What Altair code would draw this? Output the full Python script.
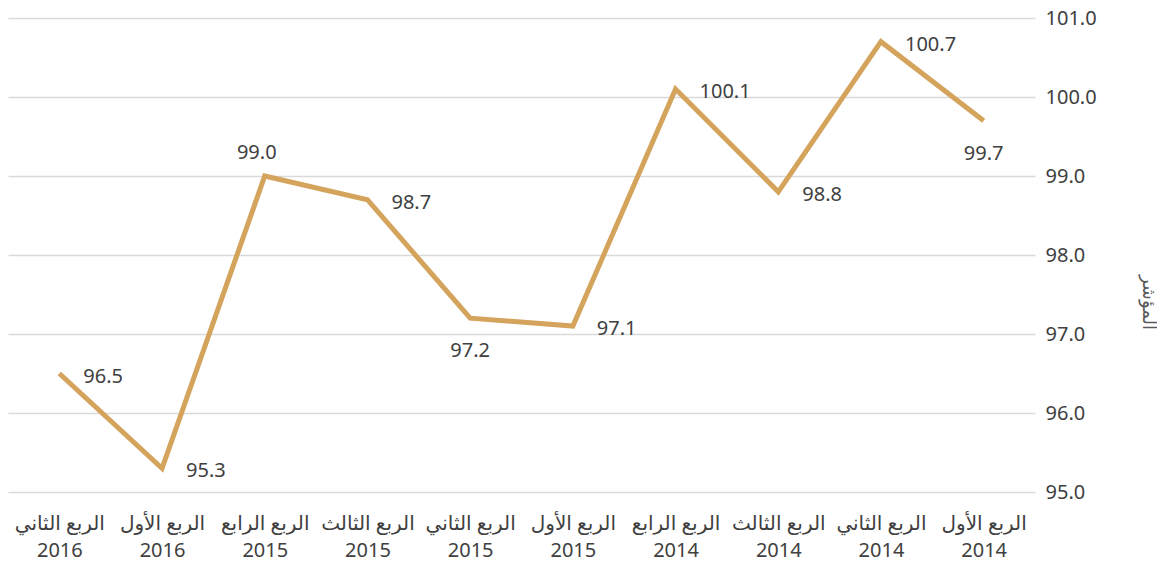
import altair as alt
import pandas as pd

quarters = ["الربع الثاني", "الربع الأول", "الربع الرابع", "الربع الثالث", "الربع الثاني",
            "الربع الأول", "الربع الرابع", "الربع الثالث", "الربع الثاني", "الربع الأول"]
years = ["2016", "2016", "2015", "2015", "2015", "2015", "2014", "2014", "2014", "2014"]
values = [96.5, 95.3, 99.0, 98.7, 97.2, 97.1, 100.1, 98.8, 100.7, 99.7]

cats = [f"{q}|{y}" for q, y in zip(quarters, years)]
df = pd.DataFrame({"cat": cats, "value": values})

# label placement (layout choice)
above = [cats[2]]
below = [cats[4], cats[9]]

FONT = "Noto Sans, DejaVu Sans"
LINE = "#D4A35C"
TXT = "#404040"

x = alt.X("cat:N", sort=cats, title=None,
          scale=alt.Scale(type="point", padding=0.5),
          axis=alt.Axis(labelAngle=0, labelExpr="split(datum.label, '|')",
                        labelFontSize=20, labelColor=TXT, labelFont=FONT,
                        labelLineHeight=27, labelPadding=21, labelBaseline="top",
                        domain=False, ticks=False, grid=False))
y = alt.Y("value:Q", title="المؤشر",
          scale=alt.Scale(domain=[95, 101], nice=False, zero=False),
          axis=alt.Axis(orient="right", values=[95, 96, 97, 98, 99, 100, 101], format=".1f",
                        labelFontSize=20, labelColor=TXT, labelFont=FONT, labelPadding=10,
                        domain=False, ticks=False, gridColor="#D9D9D9", gridWidth=1.5,
                        titleFontSize=18, titleColor="#595959", titleFont=FONT,
                        titleFontWeight="normal", titlePadding=42, titleY=284))

base = alt.Chart(df)
line = base.mark_line(color=LINE, strokeWidth=5, strokeJoin="miter").encode(x=x, y=y)

txt_kw = dict(fontSize=20, color=TXT, font=FONT)
right_lbl = base.transform_filter(
    ~alt.FieldOneOfPredicate(field="cat", oneOf=above + below)
).mark_text(align="left", baseline="middle", dx=24, dy=3, **txt_kw).encode(
    x=x, y=y, text=alt.Text("value:Q", format=".1f"))
above_lbl = base.transform_filter(
    alt.FieldOneOfPredicate(field="cat", oneOf=above)
).mark_text(align="center", baseline="middle", dx=-8, dy=-23, **txt_kw).encode(
    x=x, y=y, text=alt.Text("value:Q", format=".1f"))
below_lbl = base.transform_filter(
    alt.FieldOneOfPredicate(field="cat", oneOf=below)
).mark_text(align="center", baseline="middle", dx=0, dy=33, **txt_kw).encode(
    x=x, y=y, text=alt.Text("value:Q", format=".1f"))

chart = (line + right_lbl + above_lbl + below_lbl).properties(
    width=1027, height=474, padding=0, background="white"
).configure_view(stroke=None)

chart.save("out.html", embed_options={"renderer": "svg", "actions": False})
